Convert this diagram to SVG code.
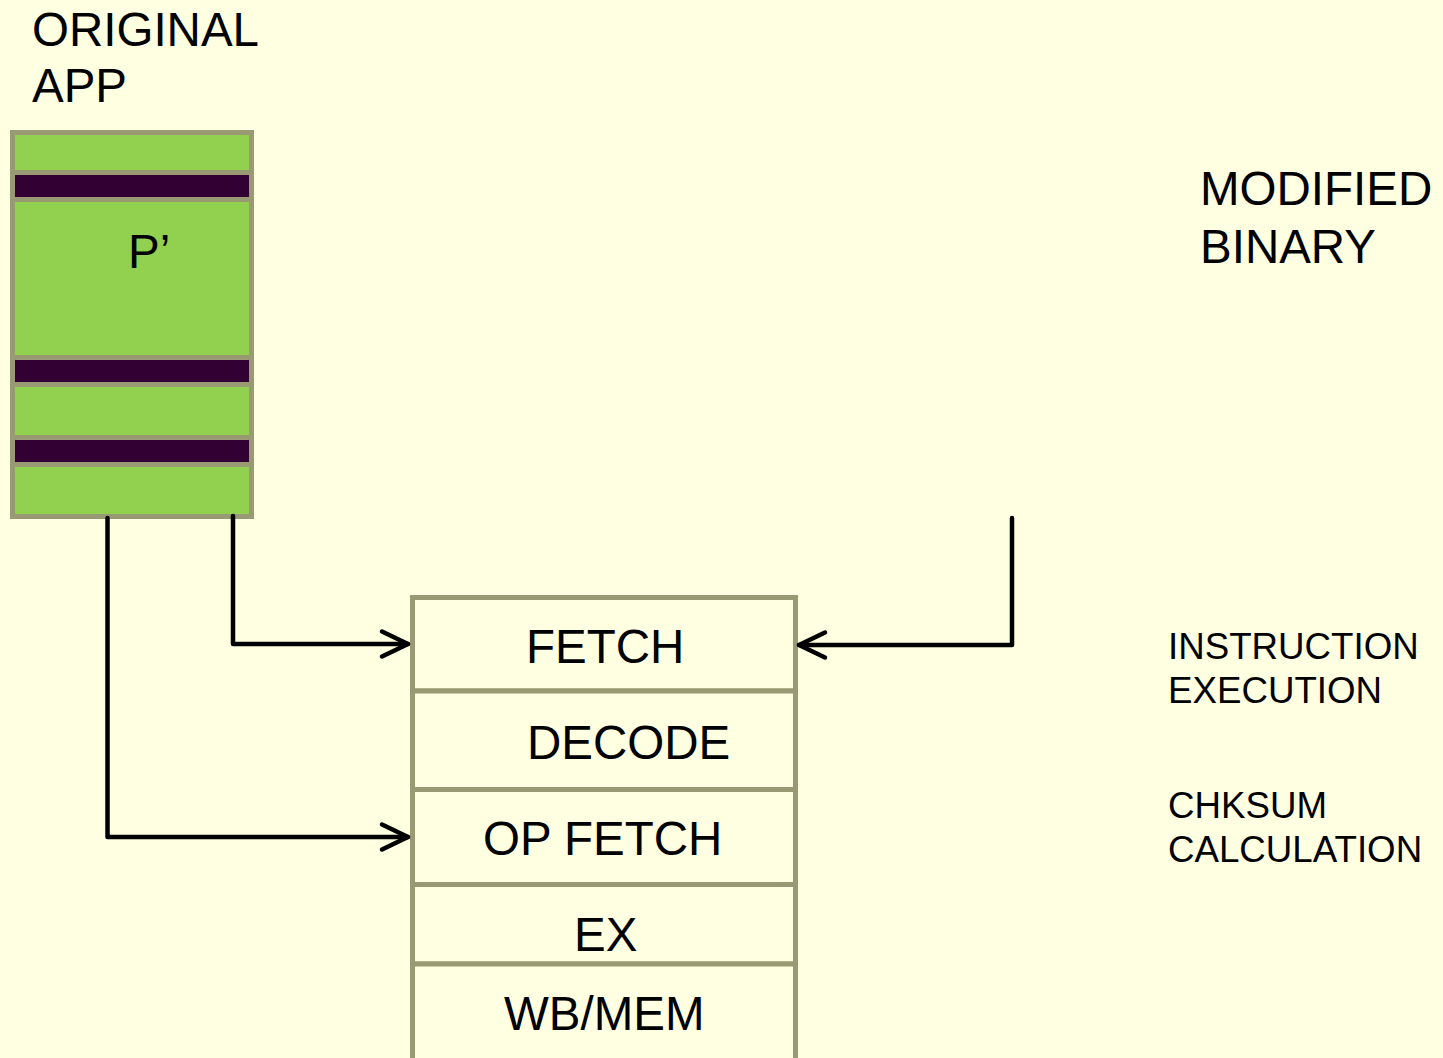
<svg xmlns="http://www.w3.org/2000/svg" width="1443" height="1058" viewBox="0 0 1443 1058">
<defs>
<style>
.t{font-family:"Liberation Sans",Arial,sans-serif;fill:#000}
.big{font-size:47.5px}
.small{font-size:36.7px}
.cell{fill:#FFFFE1;stroke:#999973;stroke-width:5}
.bar{fill:#330033;stroke:#999973;stroke-width:5}
.conn{fill:none;stroke:#000;stroke-width:4.5;stroke-linejoin:round;stroke-linecap:round}
</style>
<marker id="chev" markerUnits="userSpaceOnUse" viewBox="-32 -18 36 36" refX="0" refY="0" markerWidth="36" markerHeight="36" orient="auto">
<path d="M-26,-12.5 L0,0 L-26,12.5" fill="none" stroke="#000" stroke-width="4.5" stroke-linecap="round" stroke-linejoin="round"/>
</marker>
</defs>
<rect x="0" y="0" width="1443" height="1058" fill="#FFFFE1"/>

<g id="label-original-app">
<text class="t big" x="32" y="46">ORIGINAL</text>
<text class="t big" x="32" y="102">APP</text>
</g>

<g id="label-modified-binary">
<text class="t big" x="1200" y="205">MODIFIED</text>
<text class="t big" x="1200" y="263">BINARY</text>
</g>

<g id="app-block">
<rect x="12.5" y="132.5" width="239" height="384" fill="#92D050" stroke="#999973" stroke-width="5"/>
<rect class="bar" x="12.5" y="172.5" width="239" height="27"/>
<rect class="bar" x="12.5" y="357.5" width="239" height="27"/>
<rect class="bar" x="12.5" y="437.5" width="239" height="27"/>
<text class="t big" x="128" y="268">P’</text>
</g>

<g id="stage-fetch">
<rect class="cell" x="412.5" y="597.5" width="383" height="93.5"/>
<text class="t big" x="526" y="663">FETCH</text>
</g>
<g id="stage-decode">
<rect class="cell" x="412.5" y="691" width="383" height="98.5"/>
<text class="t big" x="527" y="759">DECODE</text>
</g>
<g id="stage-opfetch">
<rect class="cell" x="412.5" y="789.5" width="383" height="95"/>
<text class="t big" x="483" y="855">OP FETCH</text>
</g>
<g id="stage-ex">
<rect class="cell" x="412.5" y="884.5" width="383" height="79.5"/>
<text class="t big" x="574" y="951">EX</text>
</g>
<g id="stage-wbmem">
<rect class="cell" x="412.5" y="964" width="383" height="110"/>
<text class="t big" x="504" y="1030">WB/MEM</text>
</g>

<g id="label-instruction-execution">
<text class="t small" x="1168" y="659">INSTRUCTION</text>
<text class="t small" x="1168" y="703">EXECUTION</text>
</g>
<g id="label-chksum-calculation">
<text class="t small" x="1168" y="818">CHKSUM</text>
<text class="t small" x="1168" y="862">CALCULATION</text>
</g>

<g id="connectors">
<path class="conn" d="M233,516 L233,644 L408,644" marker-end="url(#chev)"/>
<path class="conn" d="M107.5,518 L107.5,837 L408,837" marker-end="url(#chev)"/>
<path class="conn" d="M1012,518 L1012,645 L799,645" marker-end="url(#chev)"/>
</g>
</svg>
